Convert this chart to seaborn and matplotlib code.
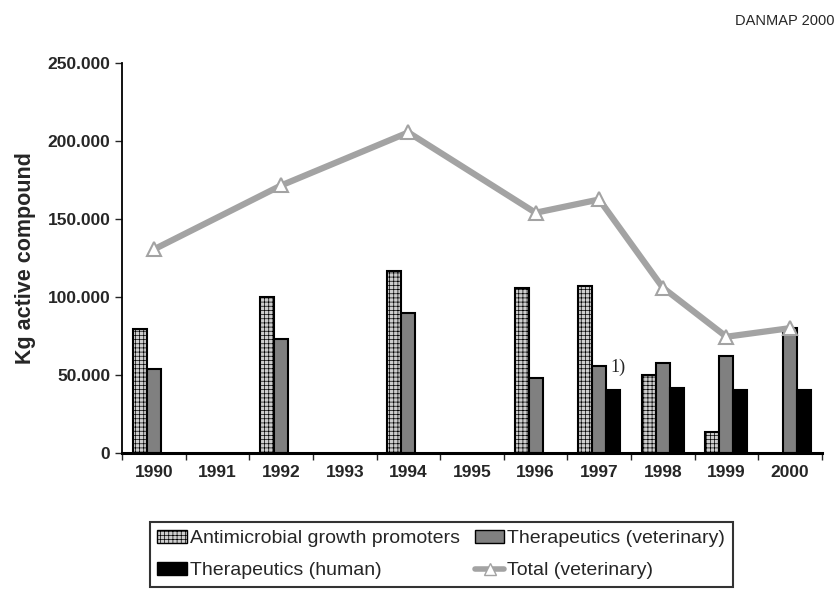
import numpy as np
import pandas as pd
import matplotlib
matplotlib.use("Agg")
import matplotlib.pyplot as plt
import seaborn as sns
from matplotlib.patches import Patch
from matplotlib.lines import Line2D
from matplotlib.ticker import FuncFormatter

# Values (kg active compound)
years = ['1990', '1991', '1992', '1993', '1994', '1995', '1996', '1997', '1998', '1999', '2000']
growth_promoters = [79500, np.nan, 100000, np.nan, 116500, np.nan, 105800, 107000, 50000, 13500, np.nan]
therapeutics_vet = [53500, np.nan, 73000, np.nan, 90000, np.nan, 48000, 55800, 57700, 62000, 80000]
therapeutics_human = [np.nan, np.nan, np.nan, np.nan, np.nan, np.nan, np.nan, 40500, 41500, 40500, 40500]
total_vet = [130500, np.nan, 171500, np.nan, 205500, np.nan, 154000, 162500, 106000, 74500, 80000]

series_names = ['Antimicrobial growth promoters', 'Therapeutics (veterinary)', 'Therapeutics (human)']
series_colors = ['#cdcdcd', '#808080', '#000000']
line_color = '#a3a3a3'

sns.set_style('white')
plt.rcParams['font.family'] = ['Liberation Sans', 'DejaVu Sans']
plt.rcParams['hatch.linewidth'] = 0.5

df = pd.DataFrame({
    'year': years * 3,
    'series': np.repeat(series_names, len(years)),
    'value': growth_promoters + therapeutics_vet + therapeutics_human,
})

fig = plt.figure(figsize=(8.36, 5.89), dpi=100)
ax = fig.add_axes([0.146, 0.231, 0.837, 0.662])

sns.barplot(data=df, x='year', y='value', hue='series', order=years,
            hue_order=series_names, palette=series_colors, width=0.66,
            edgecolor='black', linewidth=1.5, legend=False, ax=ax)

# hatch the growth promoter bars
for bar in ax.containers[0]:
    bar.set_hatch('++++')

# total (veterinary) line, skipping years without data
tot = pd.DataFrame({'pos': np.arange(len(years)), 'total': total_vet}).dropna()
sns.lineplot(data=tot, x='pos', y='total', color=line_color, linewidth=4.5,
             marker='^', markersize=10, markerfacecolor='white',
             markeredgecolor=line_color, markeredgewidth=1.5, ax=ax, zorder=5)

ax.set_xlim(-0.5, len(years) - 0.5)
ax.set_ylim(0, 250000)
ax.set_yticks(np.arange(0, 250001, 50000))
ax.yaxis.set_major_formatter(FuncFormatter(lambda v, p: f'{int(v):,}'.replace(',', '.')))
ax.set_xticks(np.arange(len(years)))
ax.set_xticklabels(years)
ax.set_xticks(np.arange(len(years) + 1) - 0.5, minor=True)
ax.tick_params(axis='x', which='major', length=0, pad=9, labelsize=12.5)
ax.tick_params(axis='x', which='minor', length=5, width=1, direction='out', bottom=True)
ax.tick_params(axis='y', length=5, width=1, direction='out', left=True, labelsize=12.5)
for lab in ax.get_yticklabels() + ax.get_xticklabels():
    lab.set_fontweight('bold')
ax.set_xlabel('')
ax.set_ylabel('Kg active compound', fontsize=15.5, fontweight='bold', labelpad=8)

sns.despine(ax=ax)
ax.spines['left'].set_linewidth(1.3)
ax.spines['bottom'].set_linewidth(2.2)
ax.spines['left'].set_color('black')
ax.spines['bottom'].set_color('black')

ax.text(7.18, 55000, '1)', fontsize=13, family='Liberation Serif', va='center')
fig.text(0.998, 0.958, 'DANMAP 2000', ha='right', fontsize=10.5)

# legend rows: AGP | vet therapeutics, human therapeutics | total (column-major fill)
handles = [
    Patch(facecolor=series_colors[0], edgecolor='black', hatch='++++'),
    Patch(facecolor=series_colors[2], edgecolor='black'),
    Patch(facecolor=series_colors[1], edgecolor='black'),
    Line2D([], [], color=line_color, linewidth=4, marker='^', markersize=9,
           markerfacecolor='white', markeredgecolor=line_color),
]
labels = [series_names[0], series_names[2], series_names[1], 'Total (veterinary)']
leg = fig.legend(handles, labels, ncol=2, loc='upper left',
                 bbox_to_anchor=(0.179, 0.114), frameon=True, fancybox=False,
                 edgecolor='black', fontsize=14, handlelength=1.5,
                 handletextpad=0.15, columnspacing=0.8, labelspacing=0.75,
                 borderpad=0.4, borderaxespad=0)
leg.get_frame().set_linewidth(1.5)

fig.savefig('out.png', dpi=100)
